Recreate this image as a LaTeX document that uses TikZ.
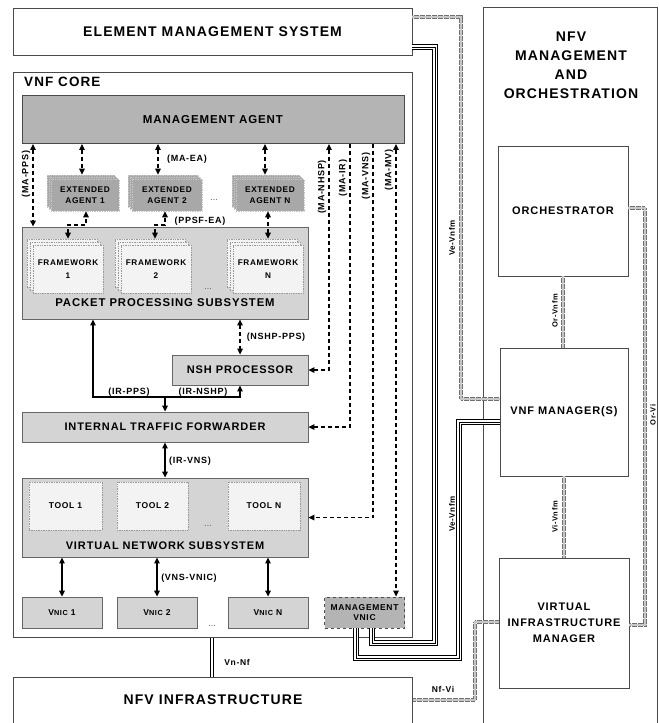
\documentclass[tikz,border=0pt]{standalone}
\usepackage{fontspec}
\setmainfont{Liberation Sans}[LetterSpace=8]
\usetikzlibrary{arrows.meta,calc}
\definecolor{bord}{HTML}{4A4A4A}
\definecolor{mafill}{HTML}{B4B4B4}
\definecolor{subfill}{HTML}{D4D4D4}
\definecolor{eafill}{HTML}{A8A8A8}
\definecolor{fwfill}{HTML}{F3F3F3}
\definecolor{dotc}{HTML}{707070}
\newcommand{\fsz}[2]{\fontsize{#1}{#2}\selectfont\bfseries}
\newcommand{\stk}[8]{%
 \node[#7, minimum width=#4, minimum height=#5] (#1c) at ({#2-2*#6},{#3-2*#6}) {};
 \node[#7, minimum width=#4, minimum height=#5] (#1b) at ({#2-#6},{#3-#6}) {};
 \node[#7, minimum width=#4, minimum height=#5] (#1) at (#2,#3) {#8};}
\begin{document}
\begin{tikzpicture}[x=1pt,y=-1pt,
  >={Triangle[length=6pt,width=5.5pt]},
  box/.style={draw=bord, line width=0.9pt, fill=white, inner sep=0pt, align=center},
  mabox/.style={draw=bord, line width=0.9pt, fill=mafill, inner sep=0pt, align=center},
  sub/.style={draw=black!60, line width=0.8pt, fill=subfill, inner sep=0pt, align=center},
  ea/.style={draw=black!22, densely dotted, line width=0.7pt, fill=eafill, inner sep=0pt, align=center, font={\fsz{8.3}{11}}},
  fw/.style={draw=black!40, densely dotted, line width=0.7pt, fill=fwfill, inner sep=0pt, align=center, font={\fsz{8.2}{13}}},
  tool/.style={draw=black!40, densely dotted, line width=0.7pt, fill=fwfill, inner sep=0pt, align=center, font={\fsz{8.5}{10}}},
  vnic/.style={draw=black!60, line width=0.8pt, fill=subfill, inner sep=0pt, align=center, font={\fsz{8.5}{10}}},
  mvnic/.style={draw=black!70, dashed, line width=0.8pt, fill=mafill, inner sep=0pt, align=center, font={\fsz{8.5}{10}}},
  lbl/.style={inner sep=0pt, font={\fsz{9}{10}}},
  slbl/.style={inner sep=0pt, font={\fsz{8}{9}}},
  dots/.style={inner sep=0pt, text=black!55, font={\fsz{7}{8}}},
  conn/.style={line width=1.3pt},
  dconn/.style={line width=1.3pt, dash pattern=on 4pt off 3pt},
  triple/.style={line width=5.5pt, draw=black, postaction={draw=white,line width=3.5pt}, postaction={draw=black,line width=1pt}},
  dband/.style={draw=dotc, line width=4pt, dash pattern=on 0.6pt off 0.6pt,
     postaction={draw=black!22, line width=2.2pt, solid}},
  dbl/.style={draw=black, line width=0.9pt, double=white, double distance=2pt}
]
\useasboundingbox (0,0) rectangle (659,723);
\clip (0,0) rectangle (659,723);
\fill[white] (0,0) rectangle (659,723);

% ---------- outer boxes ----------
\node[box, minimum width=399, minimum height=47, font={\fsz{14}{16}}] (ems) at (212.5,31.5) {ELEMENT MANAGEMENT SYSTEM};
\node[box, minimum width=174, minimum height=760, anchor=north west] (mano) at (483,7) {};
\node[inner sep=0pt, align=center, font={\fsz{14}{19}}] (manot) at (571,65) {NFV\\MANAGEMENT\\AND\\ORCHESTRATION};
\node[box, minimum width=399, minimum height=565, anchor=north west] (core) at (13,72) {};
\node[inner sep=0pt, anchor=west, font={\fsz{13.5}{15}}] (coret) at (24,82) {VNF CORE};
\node[box, minimum width=399, minimum height=80, anchor=north west] (nfvi) at (13,677) {};
\node[inner sep=0pt, font={\fsz{14}{16}}] (nfvit) at (213,700) {NFV INFRASTRUCTURE};

\node[box, minimum width=130, minimum height=130, font={\fsz{11}{13}}] (orch) at (563,211) {ORCHESTRATOR};
\node[box, minimum width=128, minimum height=128, font={\fsz{11}{13}}] (vnfm) at (564,412) {VNF MANAGER(S)};
\node[box, minimum width=130, minimum height=130, font={\fsz{11}{16}}] (vim) at (564,623) {VIRTUAL\\INFRASTRUCTURE\\MANAGER};

% ---------- VNF core internals ----------
\node[mabox, minimum width=382, minimum height=48, font={\fsz{11.5}{13}}] (ma) at (213,119.5) {MANAGEMENT AGENT};

\stk{ea1}{85}{195}{68}{32}{2}{ea}{EXTENDED\\AGENT 1}
\stk{ea2}{167}{195}{70}{32}{2}{ea}{EXTENDED\\AGENT 2}
\stk{ean}{270}{195}{68}{32}{2}{ea}{EXTENDED\\AGENT N}
\node[dots] (d1) at (214,200) {...};

\node[sub, minimum width=286, minimum height=92] (pps) at (165,273) {};
\stk{fw1}{68}{269}{70}{48}{3}{fw}{FRAMEWORK\\1}
\stk{fw2}{156}{269}{70}{48}{3}{fw}{FRAMEWORK\\2}
\stk{fwn}{268}{269}{70}{48}{3}{fw}{FRAMEWORK\\N}
\node[dots] (d2) at (208,289) {...};
\node[inner sep=0pt, font={\fsz{11.3}{13}}] (ppst) at (165,303) {PACKET PROCESSING SUBSYSTEM};

\node[sub, minimum width=136, minimum height=30, font={\fsz{11}{13}}] (nsh) at (240,370) {NSH PROCESSOR};
\node[sub, minimum width=286, minimum height=30, font={\fsz{11}{13}}] (itf) at (165,427) {INTERNAL TRAFFIC FORWARDER};

\node[sub, minimum width=286, minimum height=79] (vns) at (165,517.5) {};
\node[tool, minimum width=73, minimum height=48] (t1) at (65.5,506) {TOOL 1};
\node[tool, minimum width=71, minimum height=48] (t2) at (152.5,506) {TOOL 2};
\node[tool, minimum width=72, minimum height=48] (tn) at (264,506) {TOOL N};
\node[dots] (d3) at (208,526) {...};
\node[inner sep=0pt, font={\fsz{11}{13}}] (vnst) at (165,546) {VIRTUAL NETWORK SUBSYSTEM};

\node[vnic, minimum width=80, minimum height=31] (v1) at (62,612.5) {V{\fontsize{7.3}{8}\selectfont NIC} 1};
\node[vnic, minimum width=80, minimum height=31] (v2) at (157,612.5) {V{\fontsize{7.3}{8}\selectfont NIC} 2};
\node[vnic, minimum width=80, minimum height=31] (vn) at (268,612.5) {V{\fontsize{7.3}{8}\selectfont NIC} N};
\node[dots] (d4) at (212,626) {...};
\node[mvnic, minimum width=80, minimum height=31] (mv) at (364.5,612.5) {MANAGEMENT\\VNIC};

% ---------- internal connectors ----------
\draw[dconn,<->] (33,0 |- ma.south) -- (33,0 |- pps.north);
\node[lbl, rotate=90] (lmapps) at (26,174) {(MA-PPS)};

\draw[dconn,<->] (82,0 |- ma.south) -- (82,0 |- ea1c.north);
\draw[dconn,<->] (158,0 |- ma.south) -- (158,0 |- ea2c.north);
\draw[dconn,<->] (265,0 |- ma.south) -- (265,0 |- eanc.north);
\node[lbl] (lmaea) at (187,159) {(MA-EA)};

\draw[dconn,<->] (68,0 |- fw1c.north) -- (68,225) -- (86,225) -- (86,0 |- ea1.south);
\draw[dconn,<->] (155,0 |- fw2c.north) -- (155,225) -- (165,225) -- (165,0 |- ea2.south);
\draw[dconn,<->] (268,0 |- fwnc.north) -- (268,0 |- ean.south);
\node[lbl] (lppsf) at (200,221) {(PPSF-EA)};

\draw[dconn,<->] (329,0 |- ma.south) -- (329,0 |- nsh.east) -- (nsh.east);
\node[lbl, rotate=90] (lmanhsp) at (322,187) {(MA-NHSP)};
\draw[dconn,->] (350,0 |- ma.south) -- (350,0 |- itf.east) -- (itf.east);
\node[lbl, rotate=90] (lmair) at (343,178) {(MA-IR)};
\draw[dconn,->] (373,0 |- ma.south) -- (373,0 |- vns.east) -- (vns.east);
\node[lbl, rotate=90] (lmavns) at (366,176) {(MA-VNS)};
\draw[dconn,<->] (396,0 |- ma.south) -- (396,0 |- mv.north);
\node[lbl, rotate=90] (lmamv) at (389,170) {(MA-MV)};

\draw[dconn,<->] (nsh.north |- pps.south) -- (nsh.north);
\node[lbl] (lnshp) at (276,337) {(NSHP-PPS)};

\draw[conn,<->] (93,0 |- pps.south) -- (93,397) -- (240,397) -- (nsh.south);
\draw[conn,->] (165,397) -- (165,0 |- itf.north);
\node[lbl] (lirpps) at (129,392) {(IR-PPS)};
\node[lbl] (lirnshp) at (203,392) {(IR-NSHP)};

\draw[conn,<->] (itf.south) -- (vns.north);
\node[lbl] (lirvns) at (190,461) {(IR-VNS)};

\draw[conn,<->] (v1.north |- vns.south) -- (v1.north);
\draw[conn,<->] (v2.north |- vns.south) -- (v2.north);
\draw[conn,<->] (vn.north |- vns.south) -- (vn.north);
\node[lbl] (lvnsvnic) at (189,578) {(VNS-VNIC)};

% ---------- external connectors ----------
\draw[dbl] (212,0 |- core.south) -- (212,0 |- nfvi.north);
\node[slbl, font={\fsz{8.5}{10}}] (lvnnf) at (237,662) {Vn-Nf};

\draw[triple] ([yshift=-15.5pt]ems.east) -- (435,47) -- (435,643) -- (372,643) -- (372,0 |- mv.south);
\draw[triple] ([yshift=-10pt]vnfm.west) -- (459,422) -- (459,658) -- (356,658) -- (356,0 |- mv.south);

\draw[dband] ([yshift=14.5pt]ems.east) -- (461,17) -- (461,399) -- ([yshift=13pt]vnfm.west);
\node[slbl, rotate=90] (lvevnfm1) at (452,238) {Ve-Vnfm};
\node[slbl, rotate=90] (lvevnfm2) at (452,514) {Ve-Vnfm};

\draw[dband] (orch.south) -- (orch.south |- vnfm.north);
\node[slbl, rotate=90, font={\fsz{7.5}{9}}] (lorvnfm) at (555,311) {Or-Vnfm};
\draw[dband] (vnfm.south) -- (vnfm.south |- vim.north);
\node[slbl, rotate=90, font={\fsz{7.5}{9}}] (lvivnfm) at (555,517) {Vi-Vnfm};

\draw[dband] ([yshift=3pt]orch.east) -- (645,208) -- (645,625) -- ([yshift=-2pt]vim.east);
\node[slbl, rotate=90, font={\fsz{7.5}{9}}] (lorvi) at (653,415) {Or-Vi};

\draw[dband] (nfvi.east |- nfvit) -- (475,700) -- (475,622) -- ([yshift=1pt]vim.west);
\node[slbl, font={\fsz{8.5}{10}}] (lnfvi) at (443,689) {Nf-Vi};
\end{tikzpicture}
\end{document}
